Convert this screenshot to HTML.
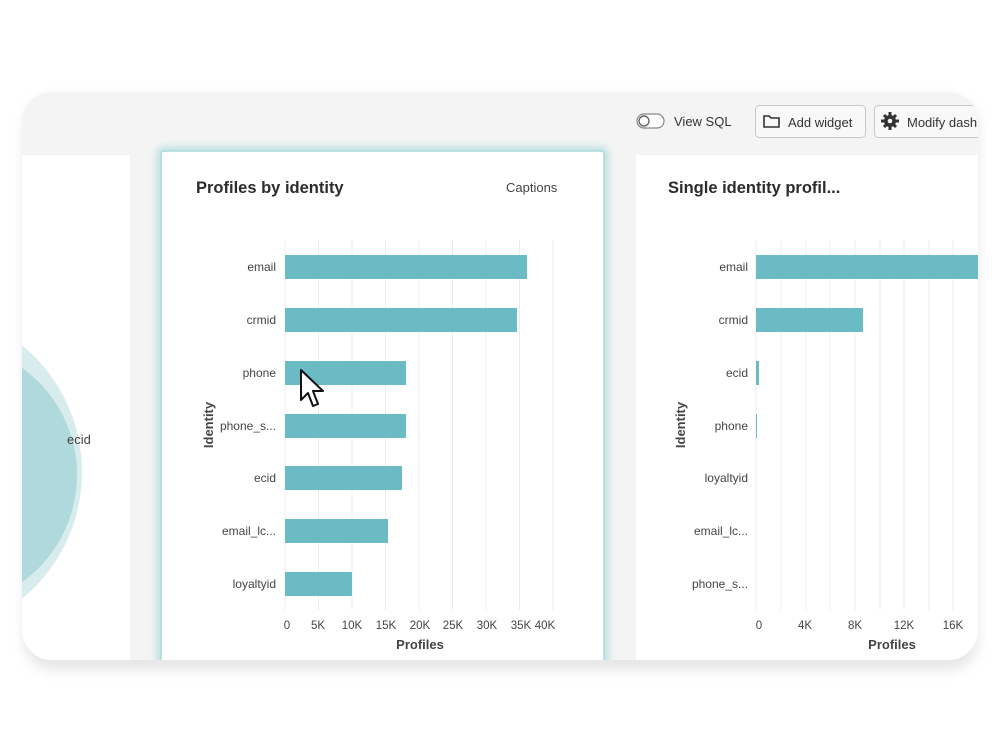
<!DOCTYPE html>
<html><head><meta charset="utf-8"><style>
html,body{margin:0;padding:0;background:#fff;width:1000px;height:750px;overflow:hidden}
text{font-family:"Liberation Sans",sans-serif}
</style></head><body>
<svg width="1000" height="750" viewBox="0 0 1000 750" xmlns="http://www.w3.org/2000/svg">
<defs>
<clipPath id="outer"><rect x="22" y="92" width="956" height="568" rx="30"/></clipPath>
<clipPath id="lc"><rect x="22" y="155" width="108" height="505"/></clipPath>
<clipPath id="rc"><rect x="636" y="155" width="342" height="505"/></clipPath>
<filter id="glow" x="-10%" y="-10%" width="120%" height="120%"><feGaussianBlur stdDeviation="4"/></filter>
<filter id="sh" x="-10%" y="-10%" width="120%" height="130%"><feGaussianBlur stdDeviation="6"/></filter>
</defs>
<rect x="24" y="98" width="954" height="572" rx="30" fill="#e6e6e6" filter="url(#sh)"/>
<g clip-path="url(#outer)">
<rect x="22" y="92" width="956" height="568" fill="#f4f4f4"/>
<!-- toolbar -->
<rect x="637" y="114" width="27" height="14" rx="7" fill="#fff" stroke="#888" stroke-width="1.2"/>
<circle cx="644" cy="121" r="5" fill="#fff" stroke="#666" stroke-width="1.4"/>
<text x="674" y="126" font-size="13" fill="#333">View SQL</text>
<rect x="755.5" y="105.5" width="110" height="32" rx="4" fill="#f8f8f8" stroke="#c8c8c8"/>
<path d="M764 116h5l2 2h8v9h-15z" fill="none" stroke="#333" stroke-width="1.6"/>
<text x="788" y="127" font-size="13" fill="#333">Add widget</text>
<rect x="874.5" y="105.5" width="120" height="32" rx="4" fill="#f8f8f8" stroke="#c8c8c8"/>
<circle cx="890" cy="121" r="6" fill="#333"/><circle cx="890" cy="121" r="2.3" fill="#f8f8f8"/>
<g stroke="#333" stroke-width="3"><line x1="890" y1="112" x2="890" y2="130"/><line x1="881" y1="121" x2="899" y2="121"/><line x1="884" y1="115" x2="896" y2="127"/><line x1="896" y1="115" x2="884" y2="127"/></g>
<circle cx="890" cy="121" r="2.3" fill="#f8f8f8"/>
<text x="907" y="127" font-size="13" fill="#333">Modify dash</text>
<!-- left card -->
<rect x="22" y="155" width="108" height="505" fill="#fff"/>
<g clip-path="url(#lc)">
<circle cx="-82" cy="472" r="164" fill="#d8eced"/>
<circle cx="-55" cy="475" r="132" fill="#afd9dc"/>
</g>
<text x="67" y="444" font-size="13" fill="#444">ecid</text>
<!-- middle card -->
<rect x="160" y="150" width="445" height="515" rx="4" fill="none" stroke="#8fcfd3" stroke-width="4" filter="url(#glow)"/>
<rect x="161" y="151" width="443" height="512" rx="3" fill="#fff" stroke="#a9dadd" stroke-width="1.5"/>
<text x="196" y="193" font-size="16.5" font-weight="bold" fill="#2c2c2c">Profiles by identity</text>
<text x="506" y="192" font-size="13" fill="#444">Captions</text>
<g stroke="#ececec" stroke-width="1">
<line x1="285" y1="240" x2="285" y2="610"/><line x1="318.5" y1="240" x2="318.5" y2="610"/><line x1="352" y1="240" x2="352" y2="610"/><line x1="385.5" y1="240" x2="385.5" y2="610"/><line x1="419" y1="240" x2="419" y2="610"/><line x1="452.5" y1="240" x2="452.5" y2="610"/><line x1="486" y1="240" x2="486" y2="610"/><line x1="519.5" y1="240" x2="519.5" y2="610"/><line x1="553" y1="240" x2="553" y2="610"/>
</g>
<g fill="#6bbbc4">
<rect x="285" y="255" width="242" height="24"/>
<rect x="285" y="308" width="232" height="24"/>
<rect x="285" y="361" width="121" height="24"/>
<rect x="285" y="414" width="121" height="24"/>
<rect x="285" y="466" width="117" height="24"/>
<rect x="285" y="519" width="103" height="24"/>
<rect x="285" y="572" width="67" height="24"/>
</g>
<g font-size="12" fill="#444" text-anchor="end">
<text x="276" y="271">email</text><text x="276" y="324">crmid</text><text x="276" y="377">phone</text><text x="276" y="430">phone_s...</text><text x="276" y="482">ecid</text><text x="276" y="535">email_lc...</text><text x="276" y="588">loyaltyid</text>
</g>
<text transform="translate(213,425) rotate(-90)" font-size="13" font-weight="bold" fill="#444" text-anchor="middle">Identity</text>
<g font-size="11.5" fill="#444" text-anchor="middle">
<text x="287" y="629">0</text><text x="318" y="629">5K</text><text x="352" y="629">10K</text><text x="386" y="629">15K</text><text x="420" y="629">20K</text><text x="453" y="629">25K</text><text x="487" y="629">30K</text><text x="521" y="629">35K</text><text x="545" y="629">40K</text>
</g>
<text x="420" y="649" font-size="13" font-weight="bold" fill="#444" text-anchor="middle">Profiles</text>
<!-- cursor -->
<path d="M301 370 L301 400 L308 393 L313 406 L318 404 L313 391 L323 391 Z" fill="#fff" stroke="#111" stroke-width="2" stroke-linejoin="round"/>
<!-- right card -->
<rect x="636" y="155" width="342" height="505" fill="#fff"/>
<g clip-path="url(#rc)">
<text x="668" y="193" font-size="16.5" font-weight="bold" fill="#2c2c2c">Single identity profil...</text>
<g stroke="#ececec" stroke-width="1">
<line x1="756" y1="240" x2="756" y2="610"/><line x1="781" y1="240" x2="781" y2="610"/><line x1="806" y1="240" x2="806" y2="610"/><line x1="830" y1="240" x2="830" y2="610"/><line x1="855" y1="240" x2="855" y2="610"/><line x1="880" y1="240" x2="880" y2="610"/><line x1="904" y1="240" x2="904" y2="610"/><line x1="929" y1="240" x2="929" y2="610"/><line x1="953" y1="240" x2="953" y2="610"/>
</g>
<g fill="#6bbbc4">
<rect x="756" y="255" width="230" height="24"/>
<rect x="756" y="308" width="107" height="24"/>
<rect x="756" y="361" width="3" height="24"/>
<rect x="756" y="414" width="1" height="24"/>
</g>
<g font-size="12" fill="#444" text-anchor="end">
<text x="748" y="271">email</text><text x="748" y="324">crmid</text><text x="748" y="377">ecid</text><text x="748" y="430">phone</text><text x="748" y="482">loyaltyid</text><text x="748" y="535">email_lc...</text><text x="748" y="588">phone_s...</text>
</g>
<text transform="translate(685,425) rotate(-90)" font-size="13" font-weight="bold" fill="#444" text-anchor="middle">Identity</text>
<g font-size="11.5" fill="#444" text-anchor="middle">
<text x="759" y="629">0</text><text x="805" y="629">4K</text><text x="855" y="629">8K</text><text x="904" y="629">12K</text><text x="953" y="629">16K</text>
</g>
<text x="892" y="649" font-size="13" font-weight="bold" fill="#444" text-anchor="middle">Profiles</text>
</g>
</g>
</svg>
</body></html>
